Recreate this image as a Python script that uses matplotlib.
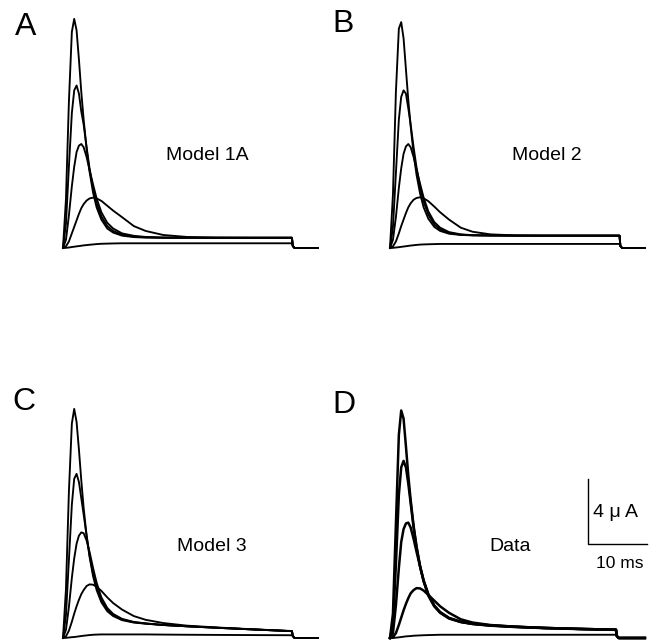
import matplotlib
matplotlib.use("Agg")
from matplotlib import pyplot as plt

plt.rcParams["font.family"] = ["Liberation Sans", "DejaVu Sans"]

# sample times during the test pulse (ms); the last point of every trace is the pulse end
t_grid = [0, 0.5, 1.0, 1.5, 1.9, 2.3, 2.7, 3.1, 3.5, 4.0, 4.5, 5.1, 5.7,
          6.5, 7.5, 8.5, 10, 12, 14, 17, 21, 26, 32]

# currents (uA), five test potentials per panel
model_1a = [
    [0, 3.0, 9.0, 13.3, 14.1, 13.4, 11.6, 9.6, 7.9, 6.1, 4.7, 3.4, 2.5, 1.75, 1.2, 0.95, 0.76, 0.67, 0.64, 0.63, 0.63, 0.63, 0.63, 0.63],
    [0, 1.5, 5.0, 8.3, 9.7, 10.0, 9.5, 8.4, 7.6, 6.2, 4.9, 3.65, 2.75, 1.95, 1.35, 1.05, 0.82, 0.7, 0.66, 0.64, 0.63, 0.63, 0.63, 0.63],
    [0, 0.5, 2.0, 3.8, 5.0, 5.9, 6.3, 6.4, 6.2, 5.6, 4.8, 3.9, 3.05, 2.2, 1.55, 1.2, 0.9, 0.75, 0.68, 0.64, 0.63, 0.63, 0.63, 0.63],
    [0, 0.1, 0.4, 0.9, 1.3, 1.7, 2.1, 2.45, 2.7, 2.92, 3.05, 3.1, 3.05, 2.9, 2.6, 2.3, 1.9, 1.35, 1.05, 0.8, 0.68, 0.64, 0.63, 0.63],
    [0, 0.01, 0.03, 0.06, 0.08, 0.1, 0.12, 0.14, 0.16, 0.18, 0.2, 0.22, 0.24, 0.26, 0.27, 0.28, 0.29, 0.29, 0.29, 0.29, 0.29, 0.29, 0.29, 0.29],
]
model_2 = [
    [0, 3.3, 9.6, 13.5, 13.9, 12.9, 11.0, 9.1, 7.5, 5.8, 4.5, 3.35, 2.5, 1.8, 1.3, 1.05, 0.88, 0.8, 0.78, 0.77, 0.76, 0.76, 0.76, 0.76],
    [0, 1.3, 4.6, 7.9, 9.3, 9.7, 9.5, 8.6, 7.6, 6.2, 4.95, 3.75, 2.85, 2.05, 1.45, 1.15, 0.92, 0.82, 0.78, 0.77, 0.76, 0.76, 0.76, 0.76],
    [0, 0.5, 1.9, 3.7, 4.9, 5.8, 6.25, 6.4, 6.2, 5.6, 4.85, 3.95, 3.1, 2.25, 1.6, 1.25, 0.98, 0.84, 0.79, 0.77, 0.76, 0.76, 0.76, 0.76],
    [0, 0.1, 0.4, 0.9, 1.35, 1.75, 2.15, 2.5, 2.75, 2.97, 3.08, 3.12, 3.06, 2.88, 2.55, 2.2, 1.75, 1.25, 1.0, 0.84, 0.78, 0.76, 0.76, 0.76],
    [0, 0.01, 0.03, 0.05, 0.07, 0.09, 0.11, 0.13, 0.15, 0.17, 0.19, 0.21, 0.22, 0.23, 0.24, 0.25, 0.25, 0.25, 0.25, 0.25, 0.25, 0.25, 0.25, 0.25],
]
model_3 = [
    [0, 3.0, 9.0, 13.2, 14.1, 13.3, 11.6, 9.7, 8.0, 6.3, 5.0, 3.8, 2.95, 2.2, 1.65, 1.35, 1.1, 0.95, 0.88, 0.8, 0.72, 0.63, 0.53, 0.42],
    [0, 1.4, 4.8, 8.2, 9.8, 10.1, 9.6, 8.6, 7.6, 6.3, 5.1, 3.95, 3.1, 2.3, 1.72, 1.4, 1.13, 0.97, 0.89, 0.8, 0.72, 0.63, 0.53, 0.42],
    [0, 0.5, 1.9, 3.7, 4.9, 5.8, 6.3, 6.5, 6.45, 6.0, 5.3, 4.3, 3.4, 2.5, 1.85, 1.48, 1.18, 0.99, 0.9, 0.8, 0.72, 0.63, 0.53, 0.42],
    [0, 0.1, 0.45, 1.0, 1.5, 1.95, 2.35, 2.7, 2.95, 3.2, 3.3, 3.28, 3.15, 2.9, 2.5, 2.15, 1.75, 1.35, 1.12, 0.92, 0.76, 0.65, 0.54, 0.43],
    [0, 0.01, 0.03, 0.05, 0.06, 0.08, 0.1, 0.12, 0.14, 0.16, 0.18, 0.2, 0.21, 0.22, 0.22, 0.22, 0.22, 0.22, 0.22, 0.21, 0.2, 0.19, 0.18, 0.17],
]
data = [
    [0, 1.5, 7.0, 12.5, 14.0, 13.5, 11.8, 10.0, 8.5, 6.9, 5.6, 4.4, 3.5, 2.6, 1.95, 1.55, 1.2, 0.98, 0.86, 0.76, 0.68, 0.61, 0.55, 0.5],
    [0, 0.8, 4.5, 8.8, 10.5, 10.9, 10.5, 9.5, 8.3, 6.8, 5.6, 4.4, 3.5, 2.65, 1.98, 1.57, 1.22, 0.99, 0.87, 0.77, 0.69, 0.62, 0.56, 0.51],
    [0, 0.3, 2.0, 4.3, 5.9, 6.7, 7.05, 7.1, 6.8, 6.1, 5.3, 4.4, 3.55, 2.7, 2.0, 1.6, 1.24, 1.0, 0.88, 0.78, 0.7, 0.62, 0.56, 0.51],
    [0, 0.05, 0.3, 0.8, 1.25, 1.7, 2.1, 2.45, 2.75, 2.95, 3.07, 3.05, 2.92, 2.65, 2.3, 1.95, 1.55, 1.15, 0.95, 0.8, 0.7, 0.62, 0.56, 0.51],
    [0, 0.0, 0.02, 0.04, 0.06, 0.08, 0.1, 0.11, 0.12, 0.14, 0.15, 0.16, 0.17, 0.18, 0.19, 0.2, 0.2, 0.2, 0.2, 0.2, 0.2, 0.2, 0.2, 0.2],
]

panel_traces = [model_1a, model_2, model_3, data]
panel_letters = ["A", "B", "C", "D"]
panel_names = ["Model 1A", "Model 2", "Model 3", "Data"]
pulse_end = [38.8, 38.9, 38.8, 38.3]   # ms
tail_end = 43.2                        # ms
tail_current = [0.12, 0.0, 0.0]        # uA after repolarisation

# scale bar
bar_ms = 10
bar_ua = 4

# ---- layout (pixels) ----
W, H = 653, 643
PX_MS = 5.9      # pixels per ms
PX_UA = 16.25    # pixels per uA
origins = [(63, 248), (390, 248), (63, 638), (390, 638)]
letter_pos = [(26, 35), (343, 32), (24, 410), (344, 413)]
name_pos = [(207, 160), (547, 160), (212, 551), (510, 551)]
XLIM = (-2, 46)
YLIM = (-1, 15)


def fig_xy(px, py):
    return px / W, 1 - py / H


fig = plt.figure(figsize=(W / 100, H / 100), dpi=100)

axes = []
for (ox, oy) in origins:
    left = ox + XLIM[0] * PX_MS
    bottom = oy - YLIM[0] * PX_UA
    w = (XLIM[1] - XLIM[0]) * PX_MS
    h = (YLIM[1] - YLIM[0]) * PX_UA
    ax = fig.add_axes([left / W, 1 - bottom / H, w / W, h / H])
    ax.set_xlim(*XLIM)
    ax.set_ylim(*YLIM)
    ax.axis("off")
    axes.append(ax)

for ax, traces, pe in zip(axes, panel_traces, pulse_end):
    t = t_grid + [pe, pe + 0.15, pe + 0.45, tail_end]
    for i, tr in enumerate(traces):
        # recorded traces are noisier, so they print heavier
        lw = 1.8 if (ax is axes[3] and i < 4) else 1.35
        ax.plot(t, tr + tail_current, color="black", lw=lw,
                solid_joinstyle="round", clip_on=False)

for (px, py), s in zip(letter_pos, panel_letters):
    fig.text(*fig_xy(px, py), s, fontsize=23, ha="center", va="baseline")

for (px, py), s in zip(name_pos, panel_names):
    fig.text(*fig_xy(px, py), s, fontsize=14, ha="center", va="baseline")

# scale bar in panel D data units
ax = axes[3]
t0 = (588 - origins[3][0]) / PX_MS
i0 = (origins[3][1] - 544) / PX_UA
ax.plot([t0, t0, t0 + bar_ms], [i0 + bar_ua, i0, i0], color="black", lw=1.0,
        clip_on=False)
fig.text(*fig_xy(593, 517), "4 \u03bc A", fontsize=14, ha="left", va="baseline")
fig.text(*fig_xy(620, 568), "10 ms", fontsize=12.5, ha="center", va="baseline")

fig.savefig("out.png", dpi=100)
